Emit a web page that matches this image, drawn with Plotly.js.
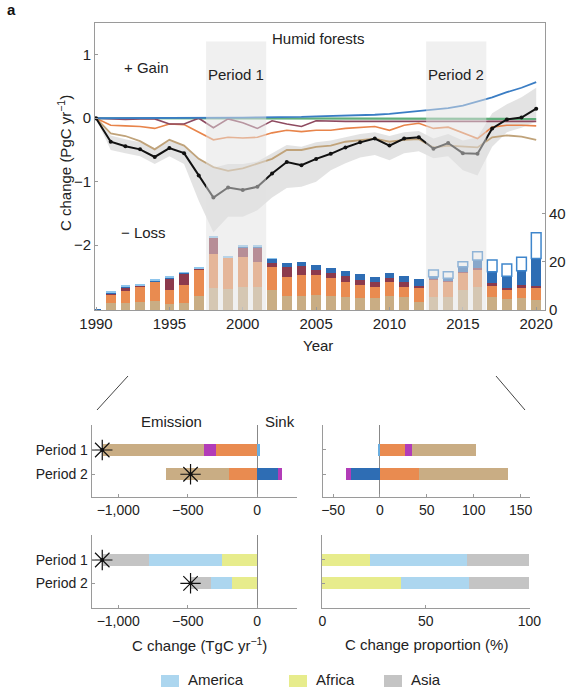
<!DOCTYPE html>
<html><head><meta charset="utf-8">
<script src="https://cdn.plot.ly/plotly-3.0.1.min.js"></script>
<style>html,body{margin:0;padding:0;background:#fff}#chart{width:578px;height:689px}</style>
</head><body><div id="chart"></div>
<script>
// ---------- Panel a: humid forests time series ----------
const years = [1990,1991,1992,1993,1994,1995,1996,1997,1998,1999,2000,2001,2002,2003,2004,2005,2006,2007,2008,2009,2010,2011,2012,2013,2014,2015,2016,2017,2018,2019,2020];
const netChange = [0,-0.37,-0.44,-0.49,-0.61,-0.47,-0.55,-0.90,-1.25,-1.09,-1.13,-1.08,-0.87,-0.69,-0.74,-0.64,-0.56,-0.46,-0.38,-0.32,-0.43,-0.32,-0.30,-0.48,-0.39,-0.55,-0.56,-0.16,-0.02,0.01,0.15];
const bandUpper = [0,-0.27,-0.33,-0.38,-0.47,-0.36,-0.42,-0.62,-0.78,-0.72,-0.72,-0.68,-0.55,-0.42,-0.45,-0.38,-0.35,-0.30,-0.25,-0.22,-0.28,-0.22,-0.20,-0.32,-0.25,-0.35,-0.30,0.08,0.22,0.33,0.48];
const bandLower = [0,-0.50,-0.55,-0.60,-0.72,-0.60,-0.72,-1.30,-1.80,-1.55,-1.55,-1.45,-1.25,-1.10,-1.08,-1.00,-0.82,-0.71,-0.62,-0.58,-0.66,-0.55,-0.52,-0.63,-0.60,-0.82,-0.90,-0.45,-0.22,-0.15,-0.05];
const lineTan = [0,-0.24,-0.28,-0.36,-0.49,-0.34,-0.43,-0.64,-0.77,-0.83,-0.79,-0.71,-0.64,-0.50,-0.50,-0.45,-0.43,-0.37,-0.34,-0.32,-0.37,-0.34,-0.33,-0.46,-0.43,-0.45,-0.46,-0.30,-0.27,-0.29,-0.34];
const lineOrange = [0,-0.11,-0.12,-0.13,-0.16,-0.09,-0.10,-0.22,-0.34,-0.30,-0.31,-0.30,-0.23,-0.19,-0.21,-0.19,-0.19,-0.16,-0.14,-0.13,-0.19,-0.11,-0.08,-0.16,-0.14,-0.23,-0.32,-0.14,-0.11,-0.11,-0.12];
const lineMaroon = [0,-0.01,-0.02,-0.01,-0.01,-0.09,-0.09,0,-0.15,-0.01,-0.07,-0.16,-0.04,-0.09,-0.13,-0.04,-0.05,-0.05,-0.05,-0.05,-0.05,-0.05,-0.05,-0.05,-0.05,-0.05,-0.05,-0.05,-0.05,-0.05,-0.05];
const lineGreen = [0,0,0,0,0,0,0,0,0,0,0,0,0,0,-0.01,-0.01,-0.01,-0.01,-0.01,-0.01,-0.01,-0.01,-0.01,-0.01,-0.01,-0.01,-0.01,-0.01,-0.01,-0.01,-0.01];
const lineBlue = [0,0,0,0,0,0,0.005,0.005,0.01,0.01,0.01,0.015,0.015,0.02,0.02,0.03,0.035,0.04,0.05,0.055,0.07,0.09,0.11,0.13,0.16,0.20,0.26,0.33,0.41,0.48,0.57];
// stacked bars (right axis)
const barTan = [0,2.8,3.0,3.4,3.9,2.5,2.8,5.9,9.0,8.5,9.6,9.4,8.3,5.9,5.9,6.2,5.9,5.5,5.1,4.8,5.9,5.5,3.4,5.2,5.2,8.3,9.6,5.5,4.5,4.8,4.1];
const barOrange = [0,3.6,5.0,6.3,7.6,5.8,7.6,10.8,14.2,13.0,12.3,10.5,9.4,7.9,8.5,8.3,7.2,6.2,5.2,4.8,5.5,4.1,5.9,7.2,6.5,7.1,6.9,4.4,3.8,4.2,4.8];
const barMaroon = [0,0.2,1.0,0.1,0.1,4.6,4.6,0.1,6.4,0.1,3.9,5.8,1.9,3.9,3.7,2.1,2.1,2.3,2.3,2.1,1.7,2.1,0.6,0.3,0.3,0.4,1.0,1.1,1.0,1.4,1.0];
const barDarkBlue = [0.4,0.3,0.6,0.2,0.2,0.4,0.2,0.1,0.1,0.1,0.1,0.2,1.7,1.9,1.8,2.1,2.3,2.1,2.2,2.1,2.1,2.5,2.8,1.1,1.1,2.1,3.2,4.8,4.7,5.8,11.4];
const barLightBlue = [0,0.8,0.7,0.7,0.9,0.7,0.7,0.8,1.0,0.7,1.0,1.0,0.1,0,0,0,0,0,0,0,0,0,0,0,0,0,0,0,0,0,0];
const barHollow = [null,null,null,null,null,null,null,null,null,null,null,null,null,null,null,null,null,null,null,null,null,null,null,2.7,2.7,2.1,3.4,4.9,5.0,5.6,10.6];
const periodSpans = [[1997.5,2001.6],[2012.5,2016.6]];
const periodNames = ['Period 1','Period 2'];
// ---------- Panel b: period summaries ----------
const periods = ['Period 1','Period 2'];
const absOrange = [-300,-201];
const absLightBlue = [20,0];
const absDarkBlue = [0,151];
const absPurple = [-83,24];
const absTan = [-729,-456];
const absNet = [-1115,-480];
const pctOrange = [27,42];
const pctLightBlue = [-2,0];
const pctDarkBlue = [0,-31];
const pctPurple = [7,-5];
const pctTan = [68,95];
const regions = ['America','Africa','Asia'];
const absAfrica = [-252,-180];
const absAmerica = [-525,-155];
const absAsia = [-335,-147];
const pctAfrica = [23,38];
const pctAmerica = [47,33];
const pctAsia = [30,29];

const C = {tan:'#c9ad84', orange:'#e98b50', maroon:'#8c3a4c', dblue:'#2e6db4', lblue:'#8ec5ec',
           purple:'#b23cb8', america:'#acd6ef', africa:'#e7ec8c', asia:'#c4c4c4', axis:'#9a9a9a'};
const regionColors = [C.america, C.africa, C.asia];
const legendBoxLeft = [161, 289, 384];   // legend key positions (px)
const FONT = 'Liberation Sans, Arial, sans-serif';
const traces = [];

function bar(vals, color, extra) {
  return Object.assign({type:'bar', x:years, y:vals, xaxis:'x', yaxis:'y2', width:0.66,
    marker:{color:color, line:{width:0}}, showlegend:false, hoverinfo:'skip'}, extra||{});
}
traces.push(bar(barTan, C.tan));
traces.push(bar(barOrange, C.orange));
traces.push(bar(barMaroon, C.maroon));
traces.push(bar(barDarkBlue, C.dblue));
traces.push(bar(barLightBlue, C.lblue));
traces.push(bar(barHollow, '#ffffff', {marker:{color:'#ffffff', line:{color:'#3f86cc', width:1.5}}}));

traces.push({type:'scatter', x:years, y:bandLower, mode:'lines', line:{width:0}, xaxis:'x', yaxis:'y', showlegend:false, hoverinfo:'skip'});
traces.push({type:'scatter', x:years, y:bandUpper, mode:'lines', line:{width:0}, fill:'tonexty', fillcolor:'rgba(208,208,208,0.6)', xaxis:'x', yaxis:'y', showlegend:false, hoverinfo:'skip'});
function ln(vals, color, w) {
  return {type:'scatter', x:years, y:vals, mode:'lines', line:{color:color, width:w||1.6}, xaxis:'x', yaxis:'y', showlegend:false, hoverinfo:'skip'};
}
traces.push(ln(lineTan, '#c0a37a', 1.8));
traces.push(ln(lineOrange, '#e8844a', 1.6));
traces.push(ln(lineGreen, '#5fae7a', 2.2));
traces.push(ln(lineMaroon, '#8e4a60', 1.6));
traces.push(ln(lineBlue, '#3a7dc4', 1.8));
traces.push({type:'scatter', x:years, y:netChange, mode:'lines+markers', line:{color:'#111', width:2},
  marker:{color:'#111', size:4}, xaxis:'x', yaxis:'y', showlegend:false, hoverinfo:'skip'});

function hbar(vals, color, xa, ya, extra) {
  return Object.assign({type:'bar', orientation:'h', y:periods, x:vals, xaxis:xa, yaxis:ya, width:0.5,
    marker:{color:color, line:{width:0}}, showlegend:false, hoverinfo:'skip'}, extra||{});
}
traces.push(hbar(absOrange, C.orange, 'x3','y3'));
traces.push(hbar(absLightBlue, '#6aaee0', 'x3','y3'));
traces.push(hbar(absDarkBlue, C.dblue, 'x3','y3'));
traces.push(hbar(absPurple, C.purple, 'x3','y3'));
traces.push(hbar(absTan, C.tan, 'x3','y3'));
traces.push(hbar(pctOrange, C.orange, 'x4','y4'));
traces.push(hbar(pctLightBlue, '#6aaee0', 'x4','y4'));
traces.push(hbar(pctDarkBlue, C.dblue, 'x4','y4'));
traces.push(hbar(pctPurple, C.purple, 'x4','y4'));
traces.push(hbar(pctTan, C.tan, 'x4','y4'));
traces.push(hbar(absAfrica, C.africa, 'x5','y5', {name:regions[1]}));
traces.push(hbar(absAmerica, C.america, 'x5','y5', {name:regions[0]}));
traces.push(hbar(absAsia, C.asia, 'x5','y5', {name:regions[2]}));
traces.push(hbar(pctAfrica, C.africa, 'x6','y6'));
traces.push(hbar(pctAmerica, C.america, 'x6','y6'));
traces.push(hbar(pctAsia, C.asia, 'x6','y6'));
[['x3','y3'],['x5','y5']].forEach(([xa,ya]) => {
  traces.push({type:'scatter', mode:'markers', x:absNet, y:periods, xaxis:xa, yaxis:ya,
    marker:{symbol:'asterisk-open', size:17, color:'#111', line:{color:'#111', width:1.2}}, showlegend:false, hoverinfo:'skip'});
  traces.push({type:'scatter', mode:'markers', x:absNet, y:periods, xaxis:xa, yaxis:ya,
    marker:{symbol:'circle', size:4, color:'#111'}, showlegend:false, hoverinfo:'skip'});
});

const W = 578, H = 689;
const px = v => v / W, py = v => 1 - v / H;
const tf = {family:FONT, size:15, color:'#222'};
const tfs = {family:FONT, size:14, color:'#222'};
const axBase = {showline:true, linecolor:C.axis, linewidth:1, showgrid:false, zeroline:false, ticks:'inside', ticklen:3, tickcolor:C.axis, fixedrange:true};
const catY = (dom, anchor, rng, labels) => Object.assign({}, axBase, {domain:dom, anchor:anchor, type:'category', categoryorder:'array', categoryarray:periods, range:rng, showticklabels:labels, tickfont:tfs});
const absTicks = {tickmode:'array', tickvals:[-1000,-500,0], ticktext:['−1,000','−500','0']};
const ann = (text, x, y, extra) => Object.assign({text:text, xref:'paper', yref:'paper', x:px(x), y:py(y), xanchor:'center', yanchor:'middle', showarrow:false, font:tf}, extra||{});

// legend keys drawn as shapes + text annotations
const legendShapes = regions.map((r,i) => ({type:'rect', xref:'paper', yref:'paper', x0:px(legendBoxLeft[i]), x1:px(legendBoxLeft[i]+18),
  y0:py(687), y1:py(675), fillcolor:regionColors[i], line:{width:0}}));
const legendTexts = regions.map((r,i) => ann(r, legendBoxLeft[i]+25, 679, {xanchor:'left'}));

const layout = {
  width:W, height:H, margin:{l:0,r:0,t:0,b:0}, paper_bgcolor:'#fff', plot_bgcolor:'rgba(0,0,0,0)',
  font:{family:FONT, size:15, color:'#222'}, barmode:'relative', bargap:0,
  showlegend:false,
  xaxis: Object.assign({}, axBase, {domain:[px(95), px(545)], anchor:'y', range:[1989.93, 2020.6], tickmode:'array', tickvals:[1990,1995,2000,2005,2010,2015,2020], tickfont:tf, mirror:true}),
  yaxis: Object.assign({}, axBase, {domain:[py(310), py(23)], anchor:'x', range:[-3.02, 1.5], tickmode:'array', tickvals:[-2,-1,0,1], tickfont:tf}),
  yaxis2: Object.assign({}, axBase, {overlaying:'y', side:'right', anchor:'x', range:[0, 118.7], tickmode:'array', tickvals:[0,20,40], tickfont:tf}),
  xaxis3: Object.assign({}, axBase, absTicks, {domain:[px(91.7), px(297.3)], anchor:'y3', range:[-1191, 288], zeroline:true, zerolinecolor:'#888', zerolinewidth:1, tickfont:tfs}),
  yaxis3: catY([py(497.3), py(425)], 'x3', [1.95, -1.03], true),
  xaxis4: Object.assign({}, axBase, {domain:[px(323.3), px(530)], anchor:'y4', range:[-60.4, 160], tickmode:'array', tickvals:[-50,0,50,100,150], zeroline:true, zerolinecolor:'#888', zerolinewidth:1, tickfont:tfs}),
  yaxis4: catY([py(497.3), py(425)], 'x4', [1.95, -1.03], false),
  xaxis5: Object.assign({}, axBase, absTicks, {domain:[px(91.7), px(297.3)], anchor:'y5', range:[-1191, 288], zeroline:true, zerolinecolor:'#888', zerolinewidth:1, tickfont:tfs}),
  yaxis5: catY([py(608.3), py(535)], 'x5', [2.07, -1.07], true),
  xaxis6: Object.assign({}, axBase, {domain:[px(321.7), px(530)], anchor:'y6', range:[-0.3, 100.3], tickmode:'array', tickvals:[0,50,100], tickfont:tfs}),
  yaxis6: catY([py(608.3), py(535)], 'x6', [2.07, -1.07], false),
  shapes: [
    ...periodSpans.map(s => ({type:'rect', xref:'x', yref:'y', x0:s[0], x1:s[1], y0:-3.02, y1:1.21, layer:'above',
      fillcolor:'rgba(226,226,226,0.5)', line:{width:0}})),
    {type:'line', xref:'paper', yref:'paper', x0:px(97), y0:py(410), x1:px(128), y1:py(376), line:{color:'#444', width:1}},
    {type:'line', xref:'paper', yref:'paper', x0:px(496), y0:py(376), x1:px(525), y1:py(410), line:{color:'#444', width:1}},
    ...legendShapes
  ],
  annotations: [
    ann('<b>a</b>', 5, 9, {xanchor:'left', font:{family:FONT, size:15, color:'#111'}}),
    ann('Humid forests', 318, 38),
    ann('+ Gain', 146, 67),
    ann('− Loss', 143, 233),
    ...periodSpans.map((s,i) => ({text:periodNames[i], xref:'x', yref:'paper', x:(s[0]+s[1])/2, y:py(74), xanchor:'center', yanchor:'middle', showarrow:false, font:tf})),
    ann('C change (PgC yr<sup>−1</sup>)', 64, 163, {textangle:-90}),
    ann('Year', 318, 345),
    ann('Emission', 171, 421),
    ann('Sink', 280, 421),
    ann('C change (TgC yr<sup>−1</sup>)', 200, 644),
    ann('C change proportion (%)', 426, 644),
    ...legendTexts
  ]
};
Plotly.newPlot('chart', traces, layout, {staticPlot:true, displayModeBar:false});
</script></body></html>
